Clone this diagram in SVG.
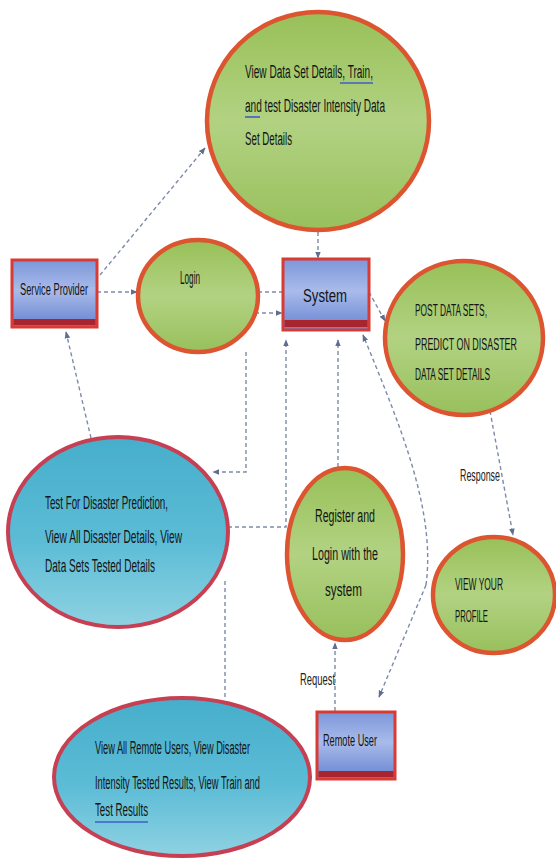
<svg xmlns="http://www.w3.org/2000/svg" width="556" height="859" viewBox="0 0 556 859">
<style>
  .t { font-family: "Liberation Sans Narrow", "Liberation Sans", Arial, sans-serif; font-size: 18px; fill: #141414; }
  .s { font-size: 16px; }
  .lbl { font-family: "Liberation Sans Narrow", "Liberation Sans", Arial, sans-serif; font-size: 16px; fill: #222; }
  .green { fill: url(#gGreen); stroke: #dc5430; stroke-width: 4.5; }
  .blueE { fill: url(#gBlueE); stroke: #c63f52; stroke-width: 4; }
  .rectBox { fill: url(#gRect); stroke: #d83a34; stroke-width: 3; }
  .band { fill: #a8242e; }
  .conn path { fill: none; stroke: #7d8aa8; stroke-width: 1.4; stroke-dasharray: 4 3; }
  .ul { stroke: #3c5fc8; stroke-width: 1.6; }
</style>
<defs>
  <linearGradient id="gGreen" x1="0" y1="0" x2="0" y2="1">
    <stop offset="0" stop-color="#98c058"/>
    <stop offset="0.5" stop-color="#b2d282"/>
    <stop offset="1" stop-color="#98c05c"/>
  </linearGradient>
  <linearGradient id="gBlueE" x1="0" y1="0" x2="0" y2="1">
    <stop offset="0" stop-color="#46aecb"/>
    <stop offset="0.55" stop-color="#5cbcd6"/>
    <stop offset="1" stop-color="#8ed2e2"/>
  </linearGradient>
  <linearGradient id="gRect" x1="0" y1="0" x2="0" y2="1">
    <stop offset="0" stop-color="#7b96da"/>
    <stop offset="0.45" stop-color="#a9bbea"/>
    <stop offset="1" stop-color="#6784d0"/>
  </linearGradient>
  <marker id="arr" viewBox="0 0 10 10" refX="9" refY="5" markerWidth="7" markerHeight="7" orient="auto-start-reverse" markerUnits="userSpaceOnUse">
    <path d="M0,1 L10,5 L0,9 z" fill="#5f6d8e"/>
  </marker>
</defs>

<g id="connectors" class="conn">
  <path d="M100,275 L205,148" marker-end="url(#arr)"/>
  <path d="M97,292 L137,292" marker-end="url(#arr)"/>
  <path d="M258,292 L283,292"/>
  <path d="M255,313 L282,313" marker-end="url(#arr)"/>
  <path d="M318,232 L318,258" marker-end="url(#arr)"/>
  <path d="M369,292 L385,321" marker-end="url(#arr)"/>
  <path d="M246,352 V472 H213" marker-end="url(#arr)"/>
  <path d="M228,527 H286 V340" marker-end="url(#arr)"/>
  <path d="M338,467 V340" marker-end="url(#arr)"/>
  <path d="M225,697 V578"/>
  <path d="M426,585 C436,510 400,425 363,335" marker-end="url(#arr)"/>
  <path d="M426,585 L379,697" marker-end="url(#arr)"/>
  <path d="M490,411 L513,535" marker-end="url(#arr)"/>
  <path d="M91,438 L66,332" marker-end="url(#arr)"/>
  <path d="M335,711 V643" marker-end="url(#arr)"/>
</g>

<g id="node-dataset">
  <ellipse class="green" cx="318" cy="121" rx="111" ry="109"/>
  <text class="t" x="245" y="78" textLength="128" lengthAdjust="spacingAndGlyphs">View Data Set Details, Train,</text>
  <line class="ul" x1="340" y1="83" x2="373" y2="83"/>
  <text class="t" x="245" y="112" textLength="140" lengthAdjust="spacingAndGlyphs">and test Disaster Intensity Data</text>
  <line class="ul" x1="245" y1="117" x2="260" y2="117"/>
  <text class="t" x="245" y="145" textLength="47" lengthAdjust="spacingAndGlyphs">Set Details</text>
</g>

<g id="node-service-provider">
  <rect class="rectBox" x="12" y="260" width="85" height="67"/>
  <rect class="band" x="13.5" y="319" width="82" height="6"/>
  <text class="t s" x="20" y="295" textLength="68" lengthAdjust="spacingAndGlyphs">Service Provider</text>
</g>

<g id="node-login">
  <ellipse class="green" cx="198" cy="296" rx="60" ry="56"/>
  <text class="t" x="180" y="284" textLength="20" lengthAdjust="spacingAndGlyphs">Login</text>
</g>

<g id="node-system">
  <rect class="rectBox" x="283" y="259" width="86" height="71"/>
  <rect class="band" x="284.5" y="320" width="83" height="7"/>
  <text class="t" x="303" y="302" textLength="44" lengthAdjust="spacingAndGlyphs">System</text>
</g>

<g id="node-post">
  <ellipse class="green" cx="464" cy="338" rx="79" ry="77"/>
  <text class="t s" x="415" y="316" textLength="72" lengthAdjust="spacingAndGlyphs">POST DATA SETS,</text>
  <text class="t s" x="415" y="350" textLength="102" lengthAdjust="spacingAndGlyphs">PREDICT ON DISASTER</text>
  <text class="t s" x="415" y="380" textLength="75" lengthAdjust="spacingAndGlyphs">DATA SET DETAILS</text>
</g>

<g id="node-test">
  <ellipse class="blueE" cx="118" cy="532" rx="110" ry="95"/>
  <text class="t" x="45" y="509" textLength="123" lengthAdjust="spacingAndGlyphs">Test For Disaster Prediction,</text>
  <text class="t" x="45" y="543" textLength="137" lengthAdjust="spacingAndGlyphs">View All Disaster Details, View</text>
  <text class="t" x="45" y="572" textLength="110" lengthAdjust="spacingAndGlyphs">Data Sets Tested Details</text>
</g>

<g id="node-register">
  <ellipse class="green" cx="345" cy="554" rx="58" ry="86"/>
  <text class="t" x="315" y="522" textLength="60" lengthAdjust="spacingAndGlyphs">Register and</text>
  <text class="t" x="312" y="560" textLength="66" lengthAdjust="spacingAndGlyphs">Login with the</text>
  <text class="t" x="325" y="596" textLength="37" lengthAdjust="spacingAndGlyphs">system</text>
</g>

<g id="node-profile">
  <ellipse class="green" cx="494" cy="595" rx="61" ry="58"/>
  <text class="t s" x="455" y="590" textLength="48" lengthAdjust="spacingAndGlyphs">VIEW YOUR</text>
  <text class="t s" x="455" y="622" textLength="33" lengthAdjust="spacingAndGlyphs">PROFILE</text>
</g>

<g id="node-remote-user">
  <rect class="rectBox" x="317" y="712" width="78" height="67"/>
  <rect class="band" x="318.5" y="771" width="75" height="6"/>
  <text class="t s" x="323" y="746" textLength="54" lengthAdjust="spacingAndGlyphs">Remote User</text>
</g>

<g id="node-admin">
  <ellipse class="blueE" cx="182" cy="777" rx="128" ry="79"/>
  <text class="t" x="95" y="754" textLength="155" lengthAdjust="spacingAndGlyphs">View All Remote Users, View Disaster</text>
  <text class="t" x="95" y="789" textLength="165" lengthAdjust="spacingAndGlyphs">Intensity Tested Results, View Train and</text>
  <text class="t" x="95" y="816" textLength="53" lengthAdjust="spacingAndGlyphs">Test Results</text>
  <line class="ul" x1="95" y1="822" x2="148" y2="822"/>
</g>

<g id="labels">
  <text class="lbl" x="460" y="481" textLength="40" lengthAdjust="spacingAndGlyphs">Response</text>
  <text class="lbl" x="300" y="685" textLength="35" lengthAdjust="spacingAndGlyphs">Request</text>
</g>
</svg>
